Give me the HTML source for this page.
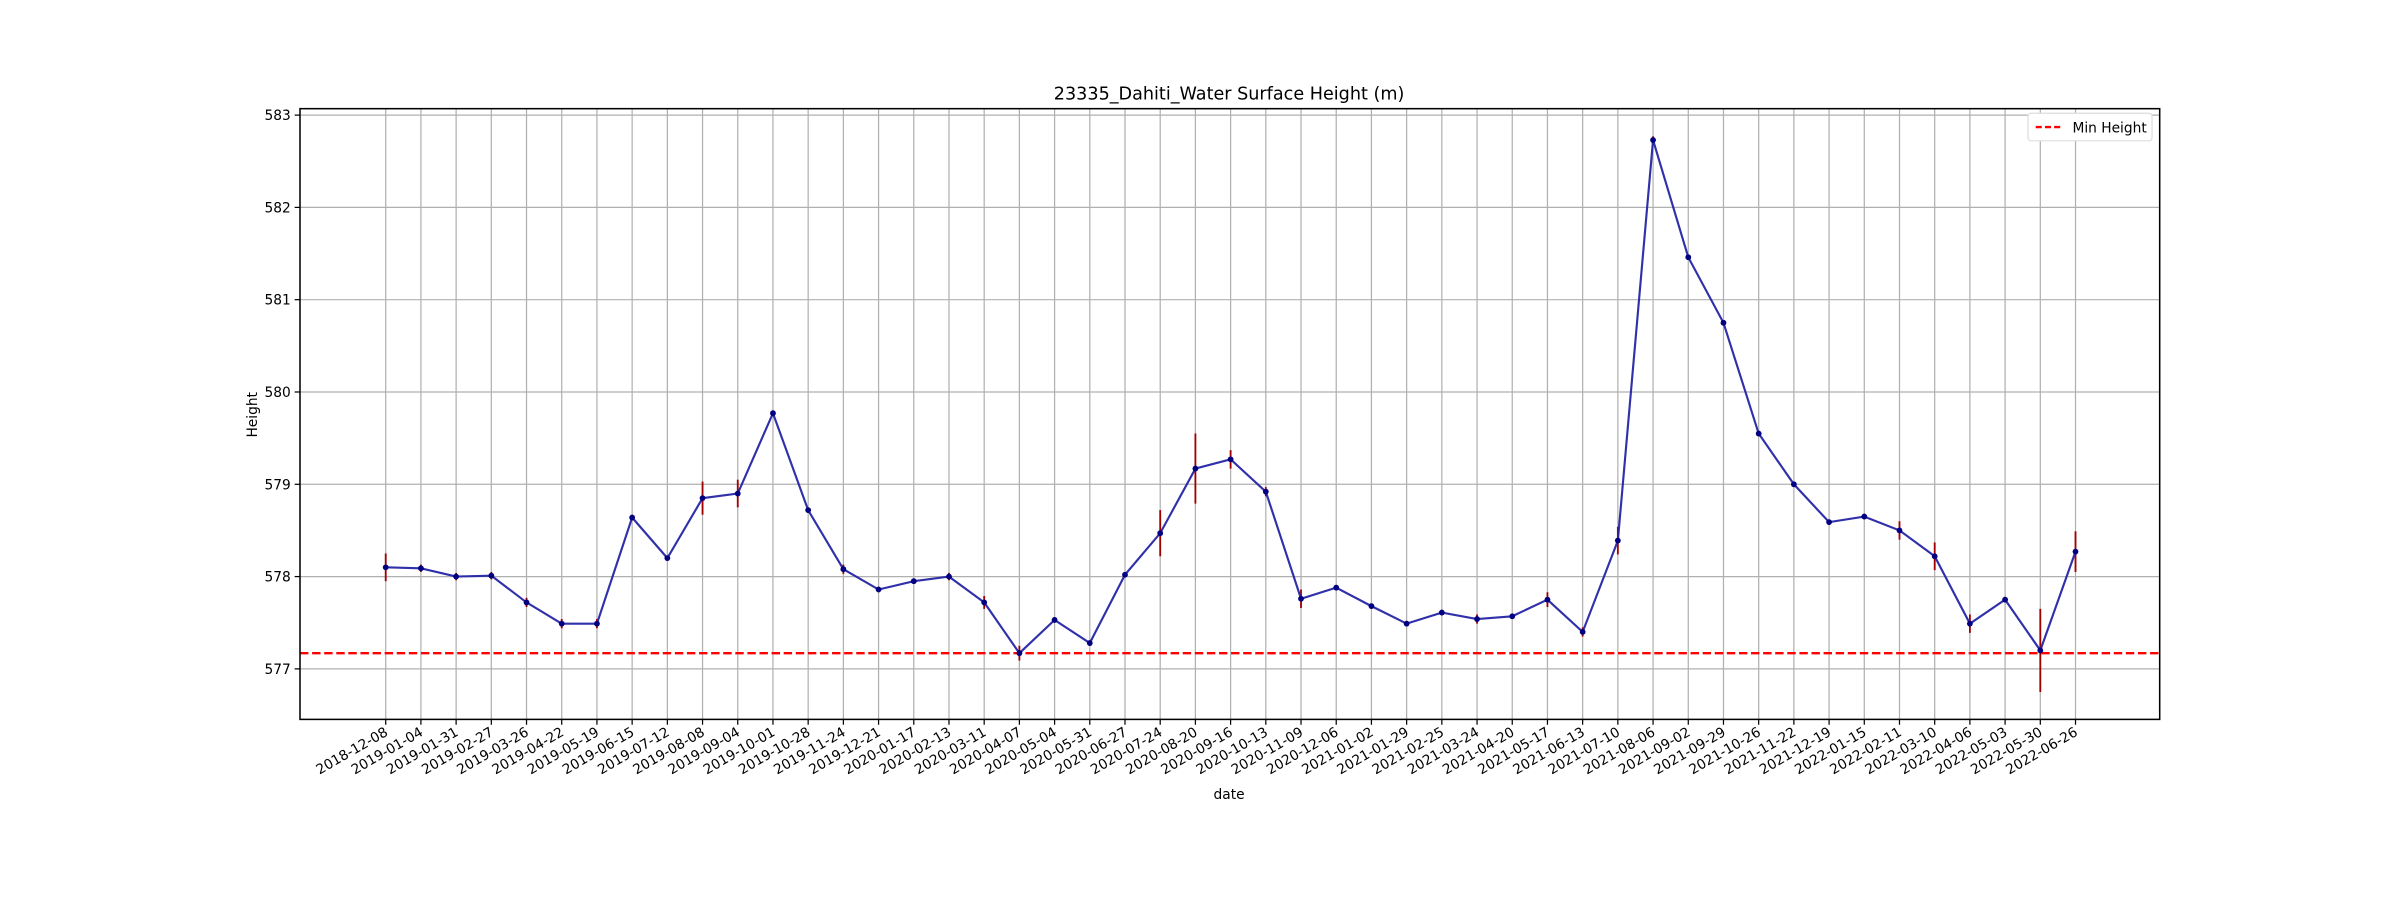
<!DOCTYPE html>
<html><head><meta charset="utf-8"><style>
html,body{margin:0;padding:0;background:#fff;}
svg{display:block;font-family:"DejaVu Sans","Liberation Sans",sans-serif;}
</style></head><body>
<svg id="chart" width="2400" height="900" viewBox="0 0 1568 588" xmlns="http://www.w3.org/2000/svg">
<rect width="1568" height="588" fill="#fff"/>
<g id="grid"></g>
<g id="minline"></g>
<g id="series"></g>
<rect x="196" y="71" width="1215" height="399" fill="none" stroke="#000" stroke-width="1"/>
<g id="yticks"></g>
<g id="xticks"></g>
<text x="803" y="65" text-anchor="middle" font-size="11.5">23335_Dahiti_Water Surface Height (m)</text>
<text transform="translate(168,271) rotate(-90)" text-anchor="middle" font-size="9">Height</text>
<text x="803" y="522" text-anchor="middle" font-size="9">date</text>
<g>
<rect x="1325" y="74" width="81" height="18" rx="2" fill="#fff" stroke="#ddd" stroke-width="0.8"/>
<line x1="1330" y1="83" x2="1348" y2="83" stroke="red" stroke-width="1.5" stroke-dasharray="4,2"/>
<text x="1354" y="86.5" font-size="9">Min Height</text>
</g>
</svg>
<script>
const dates=["2018-12-08","2019-01-04","2019-01-31","2019-02-27","2019-03-26","2019-04-22","2019-05-19","2019-06-15","2019-07-12","2019-08-08","2019-09-04","2019-10-01","2019-10-28","2019-11-24","2019-12-21","2020-01-17","2020-02-13","2020-03-11","2020-04-07","2020-05-04","2020-05-31","2020-06-27","2020-07-24","2020-08-20","2020-09-16","2020-10-13","2020-11-09","2020-12-06","2021-01-02","2021-01-29","2021-02-25","2021-03-24","2021-04-20","2021-05-17","2021-06-13","2021-07-10","2021-08-06","2021-09-02","2021-09-29","2021-10-26","2021-11-22","2021-12-19","2022-01-15","2022-02-11","2022-03-10","2022-04-06","2022-05-03","2022-05-30","2022-06-26"];
const heights=[578.10,578.09,578.00,578.01,577.72,577.49,577.49,578.64,578.20,578.85,578.90,579.77,578.72,578.08,577.86,577.95,578.00,577.72,577.17,577.53,577.28,578.02,578.47,579.17,579.27,578.92,577.76,577.88,577.68,577.49,577.61,577.54,577.57,577.75,577.40,578.39,582.73,581.46,580.75,579.55,579.00,578.59,578.65,578.50,578.22,577.49,577.75,577.20,578.27];
const errors=[0.15,0.04,0.04,0.04,0.05,0.05,0.05,0.03,0.03,0.18,0.15,0.03,0.03,0.05,0.03,0.03,0.04,0.07,0.08,0.03,0.03,0.03,0.25,0.38,0.10,0.05,0.10,0.03,0.03,0.03,0.03,0.05,0.03,0.08,0.05,0.15,0.04,0.03,0.03,0.03,0.03,0.03,0.03,0.10,0.15,0.10,0.03,0.45,0.22];
const yTicks=[577,578,579,580,581,582,583];
const minHeight=577.17;
const NS="http://www.w3.org/2000/svg";
const X0=252,DX=23.0,Y577=437,PPU=60.3,L=196,R=1411,T=71,B=470;
const xs=i=>X0+i*DX;
const ys=v=>Y577-(v-577)*PPU;
function mk(tag,attrs,parent){const e=document.createElementNS(NS,tag);for(const k in attrs)e.setAttribute(k,attrs[k]);parent.appendChild(e);return e;}
const grid=document.getElementById('grid'),yt=document.getElementById('yticks'),xt=document.getElementById('xticks'),se=document.getElementById('series'),ml=document.getElementById('minline');
yTicks.forEach(v=>{
  const g=mk('line',{x1:L,x2:R,y1:ys(v),y2:ys(v),stroke:'#b0b0b0','stroke-width':0.8},grid);
  
  
  mk('line',{x1:L-3.5,x2:L,y1:ys(v),y2:ys(v),stroke:'#000','stroke-width':0.8},yt);
  const t=mk('text',{x:L-6,y:ys(v)+3.3,'text-anchor':'end','font-size':9},yt);
  t.textContent=v;
  
  
});
dates.forEach((d,i)=>{
  const x=xs(i);
  const g=mk('line',{x1:x,x2:x,y1:T,y2:B,stroke:'#b0b0b0','stroke-width':0.8},grid);
  
  
  mk('line',{x1:x,x2:x,y1:B,y2:B+3.5,stroke:'#000','stroke-width':0.8},xt);
  const t=mk('text',{transform:`translate(${x+2},${B+10}) rotate(-30)`,'text-anchor':'end','font-size':9},xt);
  t.textContent=d;
  
  
});
const mline=mk('line',{x1:L,x2:R,y1:ys(minHeight),y2:ys(minHeight),stroke:'red','stroke-width':1.5,'stroke-dasharray':'5.5,2.4'},ml);


heights.forEach((h,i)=>{
  const e=mk('line',{x1:xs(i),x2:xs(i),y1:ys(h-errors[i]),y2:ys(h+errors[i]),stroke:'#a00000','stroke-width':1.2},se);
  
  
});
const p=mk('polyline',{points:heights.map((h,i)=>xs(i)+','+ys(h)).join(' '),fill:'none',stroke:'#2525a5','stroke-width':1.4,'stroke-opacity':0.95},se);


heights.forEach((h,i)=>{
  const c=mk('circle',{cx:xs(i),cy:ys(h),r:1.9,fill:'#000080'},se);
  
  
});
</script>
</body></html>
